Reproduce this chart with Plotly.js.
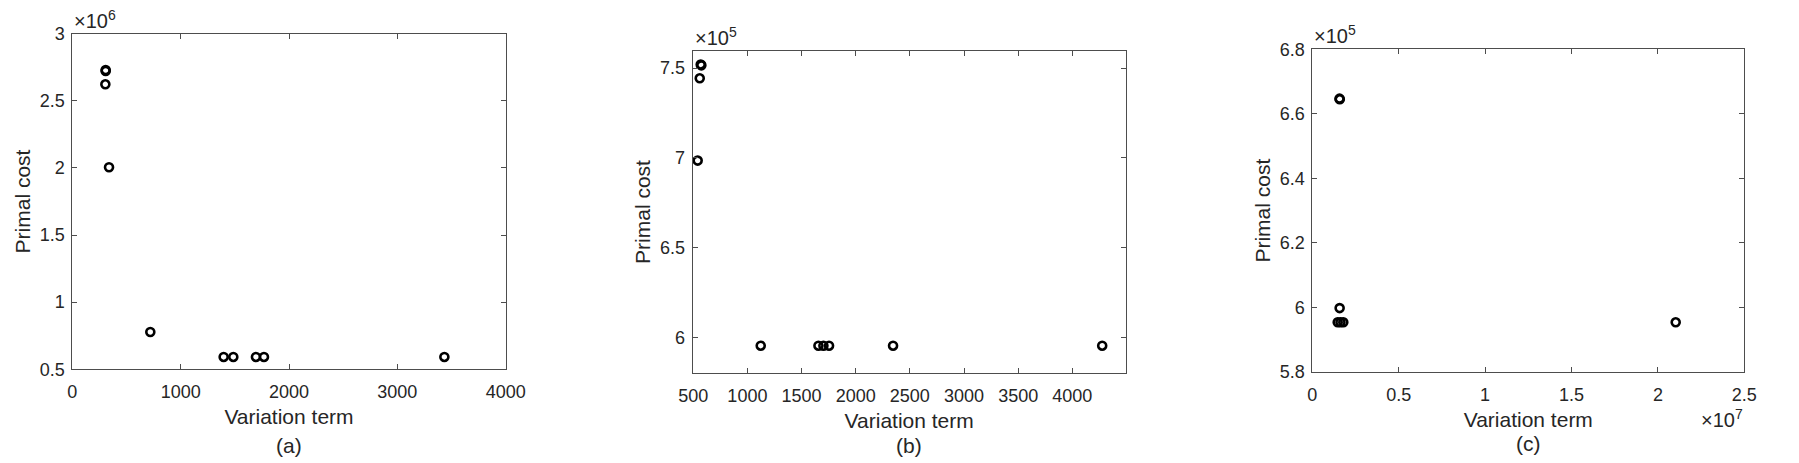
<!DOCTYPE html>
<html>
<head>
<meta charset="utf-8">
<script src="https://cdn.plot.ly/plotly-3.0.1.min.js"></script>
<style>
  html, body { margin: 0; padding: 0; background: #fff; }
  #chart { width: 1799px; height: 463px; }
</style>
</head>
<body>
<div id="chart"></div>
<script>
// ---- Data ----
// Panel (a)
const aVariation = [308, 308, 305, 339, 720, 1397, 1486, 1695, 1769, 3434];
const aPrimal    = [2.729e6, 2.722e6, 2.623e6, 2.005e6, 0.778e6, 0.592e6, 0.592e6, 0.592e6, 0.592e6, 0.592e6];
// Panel (b)
const bVariation = [569, 575, 560, 541, 1123, 1656, 1702, 1754, 2345, 4276];
const bPrimal    = [7.520e5, 7.515e5, 7.443e5, 6.985e5, 5.955e5, 5.955e5, 5.955e5, 5.955e5, 5.955e5, 5.955e5];
// Panel (c)
const cVariation = [1.575e6, 1.590e6, 1.582e6, 1.470e6, 1.630e6, 1.794e6, 2.103e7];
const cPrimal    = [6.647e5, 6.645e5, 5.998e5, 5.954e5, 5.954e5, 5.954e5, 5.954e5];

// Tick values / labels
const aXTicks = [0, 1000, 2000, 3000, 4000];
const aXLabels = ['0', '1000', '2000', '3000', '4000'];
const aYTicks = [0.5e6, 1e6, 1.5e6, 2e6, 2.5e6, 3e6];
const aYLabels = ['0.5', '1', '1.5', '2', '2.5', '3'];

const bXTicks = [500, 1000, 1500, 2000, 2500, 3000, 3500, 4000];
const bXLabels = ['500', '1000', '1500', '2000', '2500', '3000', '3500', '4000'];
const bYTicks = [6e5, 6.5e5, 7e5, 7.5e5];
const bYLabels = ['6', '6.5', '7', '7.5'];

const cXTicks = [0, 0.5e7, 1e7, 1.5e7, 2e7, 2.5e7];
const cXLabels = ['0', '0.5', '1', '1.5', '2', '2.5'];
const cYTicks = [5.8e5, 6.0e5, 6.2e5, 6.4e5, 6.6e5, 6.8e5];
const cYLabels = ['5.8', '6', '6.2', '6.4', '6.6', '6.8'];

const panelLabels = ['(a)', '(b)', '(c)'];
const xTitle = 'Variation term';
const yTitle = 'Primal cost';

// ---- Layout helpers (pixel geometry of the reference) ----
const W = 1799, H = 463;
const FONT = '"Liberation Sans", Arial, Helvetica, sans-serif';
const TXT = '#262626';
const AXC = '#4d4d4d';
const TICKF = 18, TITLEF = 21, EXPF = 20;

function px2x(p) { return p / W; }
function px2y(p) { return 1 - p / H; }

const boxes = [
  { l: 72.3,   r: 505.7,  t: 33.7, b: 369.3 },
  { l: 692.7,  r: 1125.7, t: 50.7, b: 373.3 },
  { l: 1312.3, r: 1744.3, t: 49.3, b: 372.0 }
];

function marker() {
  return { symbol: 'circle-open', size: 8, color: '#000', line: { width: 2.6, color: '#000' } };
}

const traces = [
  { x: aVariation, y: aPrimal, type: 'scatter', mode: 'markers', marker: marker(), xaxis: 'x', yaxis: 'y', showlegend: false, cliponaxis: false },
  { x: bVariation, y: bPrimal, type: 'scatter', mode: 'markers', marker: marker(), xaxis: 'x2', yaxis: 'y2', showlegend: false, cliponaxis: false },
  { x: cVariation, y: cPrimal, type: 'scatter', mode: 'markers', marker: marker(), xaxis: 'x3', yaxis: 'y3', showlegend: false, cliponaxis: false }
];

function xAxis(box, range, tv, tt, anchor) {
  return {
    domain: [px2x(box.l), px2x(box.r)], range: range, anchor: anchor,
    tickmode: 'array', tickvals: tv, ticktext: tt,
    ticks: 'inside', ticklen: 5, tickwidth: 1, tickcolor: AXC,
    showline: true, linecolor: AXC, linewidth: 1, mirror: 'ticks',
    showgrid: false, zeroline: false, automargin: false,
    ticklabelstandoff: 6,
    tickfont: { family: FONT, size: TICKF, color: TXT },
    title: { text: xTitle, font: { family: FONT, size: TITLEF, color: TXT }, standoff: 8 }
  };
}
function yAxis(box, range, tv, tt, anchor) {
  return {
    domain: [px2y(box.b), px2y(box.t)], range: range, anchor: anchor,
    tickmode: 'array', tickvals: tv, ticktext: tt,
    ticks: 'inside', ticklen: 5, tickwidth: 1, tickcolor: AXC,
    showline: true, linecolor: AXC, linewidth: 1, mirror: 'ticks',
    showgrid: false, zeroline: false, automargin: false,
    ticklabelstandoff: 3,
    tickfont: { family: FONT, size: TICKF, color: TXT },
    title: { text: yTitle, font: { family: FONT, size: TITLEF, color: TXT }, standoff: 3 }
  };
}

const annFont = { family: FONT, size: EXPF, color: TXT };
const labFont = { family: FONT, size: TITLEF, color: TXT };
const annotations = [
  { text: '\u00d710<sup>6</sup>', xref: 'paper', yref: 'paper', x: px2x(boxes[0].l), y: px2y(boxes[0].t), xanchor: 'left', yanchor: 'bottom', showarrow: false, font: annFont },
  { text: '\u00d710<sup>5</sup>', xref: 'paper', yref: 'paper', x: px2x(boxes[1].l), y: px2y(boxes[1].t), xanchor: 'left', yanchor: 'bottom', showarrow: false, font: annFont },
  { text: '\u00d710<sup>5</sup>', xref: 'paper', yref: 'paper', x: px2x(boxes[2].l), y: px2y(boxes[2].t), xanchor: 'left', yanchor: 'bottom', showarrow: false, font: annFont },
  { text: '\u00d710<sup>7</sup>', xref: 'paper', yref: 'paper', x: px2x(boxes[2].r + 1), y: px2y(433), xanchor: 'right', yanchor: 'bottom', showarrow: false, font: annFont },
  { text: panelLabels[0], xref: 'paper', yref: 'paper', x: px2x((boxes[0].l + boxes[0].r) / 2), y: px2y(445), xanchor: 'center', yanchor: 'middle', showarrow: false, font: labFont },
  { text: panelLabels[1], xref: 'paper', yref: 'paper', x: px2x((boxes[1].l + boxes[1].r) / 2), y: px2y(445), xanchor: 'center', yanchor: 'middle', showarrow: false, font: labFont },
  { text: panelLabels[2], xref: 'paper', yref: 'paper', x: px2x((boxes[2].l + boxes[2].r) / 2), y: px2y(443), xanchor: 'center', yanchor: 'middle', showarrow: false, font: labFont }
];

const layout = {
  width: W, height: H,
  margin: { l: 0, r: 0, t: 0, b: 0, pad: 0 },
  paper_bgcolor: '#fff', plot_bgcolor: '#fff',
  showlegend: false,
  font: { family: FONT, color: TXT },
  xaxis:  xAxis(boxes[0], [0, 4000], aXTicks, aXLabels, 'y'),
  yaxis:  yAxis(boxes[0], [0.5e6, 3e6], aYTicks, aYLabels, 'x'),
  xaxis2: xAxis(boxes[1], [495, 4493], bXTicks, bXLabels, 'y2'),
  yaxis2: yAxis(boxes[1], [5.8015e5, 7.5965e5], bYTicks, bYLabels, 'x2'),
  xaxis3: xAxis(boxes[2], [0, 2.5e7], cXTicks, cXLabels, 'y3'),
  yaxis3: yAxis(boxes[2], [5.8e5, 6.8e5], cYTicks, cYLabels, 'x3'),
  annotations: annotations
};

Plotly.newPlot('chart', traces, layout, { displayModeBar: false, staticPlot: true });
</script>
</body>
</html>
